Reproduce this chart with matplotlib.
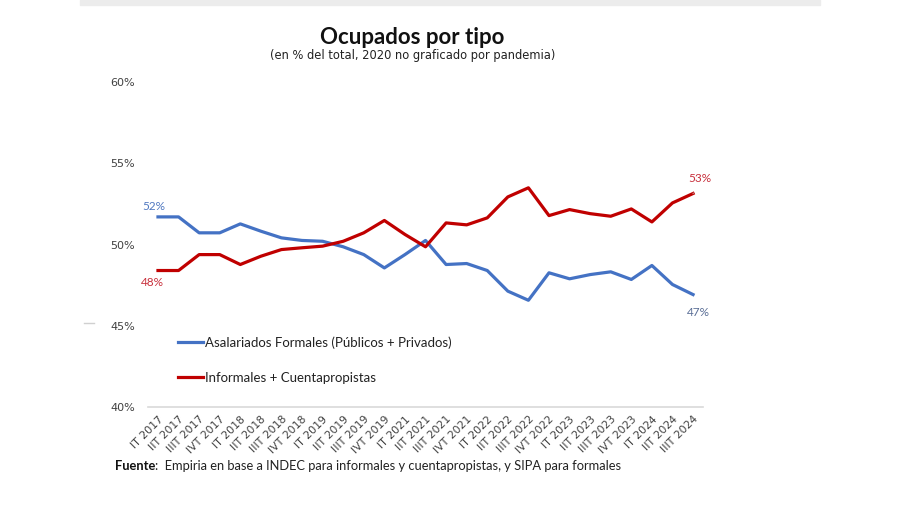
import matplotlib
matplotlib.use("Agg")
import matplotlib.pyplot as plt
from matplotlib.patches import Rectangle
from matplotlib.lines import Line2D

# quarters (2020 skipped because of the pandemic)
periodos = ["IT 2017", "IIT 2017", "IIIT 2017", "IVT 2017",
            "IT 2018", "IIT 2018", "IIIT 2018", "IVT 2018",
            "IT 2019", "IIT 2019", "IIIT 2019", "IVT 2019",
            "IT 2021", "IIT 2021", "IIIT 2021", "IVT 2021",
            "IT 2022", "IIT 2022", "IIIT 2022", "IVT 2022",
            "IT 2023", "IIT 2023", "IIIT 2023", "IVT 2023",
            "IT 2024", "IIT 2024", "IIIT 2024"]

formales = [51.70, 51.70, 50.72, 50.72, 51.27, 50.82, 50.41, 50.25, 50.20,
            49.86, 49.38, 48.56, 49.38, 50.25, 48.77, 48.83, 48.40, 47.13,
            46.57, 48.26, 47.89, 48.15, 48.32, 47.85, 48.71, 47.54, 46.92]

informales = [48.40, 48.40, 49.38, 49.38, 48.77, 49.28, 49.69, 49.80, 49.90,
              50.20, 50.72, 51.48, 50.62, 49.86, 51.33, 51.21, 51.64, 52.93,
              53.49, 51.78, 52.15, 51.90, 51.74, 52.19, 51.39, 52.56, 53.14]

y_ticks = [40, 45, 50, 55, 60]

AZUL = "#4472C4"
ROJO = "#C00000"
TXT = "Lato"
NARROW = ["Liberation Sans Narrow", "DejaVu Sans"]

fig = plt.figure(figsize=(9, 5.05), dpi=100)
ax = fig.add_axes([0.1641, 0.194, 0.6174, 0.6436])

x = list(range(len(periodos)))
ax.plot(x, formales, color=AZUL, lw=2.3, label="Asalariados Formales (Públicos + Privados)")
ax.plot(x, informales, color=ROJO, lw=2.3, label="Informales + Cuentapropistas")

ax.set_xlim(-0.5, len(periodos) - 0.5)
ax.set_ylim(40, 60)
ax.set_yticks(y_ticks)
ax.set_yticklabels([f"{v}%" for v in y_ticks], family=NARROW, fontsize=8, color="#404040")
ax.set_xticks(x)
ax.set_xticklabels(periodos, rotation=45, ha="right", rotation_mode="anchor",
                   family=NARROW, fontsize=7.8, color="#404040")
ax.tick_params(axis="both", length=0)
ax.tick_params(axis="y", pad=9)
ax.tick_params(axis="x", pad=5)

for s in ["top", "right", "left"]:
    ax.spines[s].set_visible(False)
ax.spines["bottom"].set_color("#d9d9d9")
ax.spines["bottom"].set_linewidth(1.2)

# end labels
ax.annotate("52%", (0, formales[0]), xytext=(-4, 10), textcoords="offset pixels",
            ha="center", va="center", color="#5078C0", fontsize=8.5, family=TXT)
ax.annotate("48%", (0, informales[0]), xytext=(-6, -12), textcoords="offset pixels",
            ha="center", va="center", color="#C8303C", fontsize=8.5, family=TXT)
ax.annotate("53%", (x[-1], informales[-1]), xytext=(7, 15), textcoords="offset pixels",
            ha="center", va="center", color="#C8303C", fontsize=8.5, family=TXT,
            arrowprops=dict(arrowstyle="-", color="#bfbfbf", lw=0.8, shrinkA=5, shrinkB=1))
ax.annotate("47%", (x[-1], formales[-1]), xytext=(5, -18), textcoords="offset pixels",
            ha="center", va="center", color="#5A6E96", fontsize=8.5, family=TXT)

leg = fig.legend(loc="upper left", bbox_to_anchor=(0.185, 0.358), frameon=False,
                 prop={"family": TXT, "size": 9.5}, handlelength=1.9,
                 handletextpad=0.15, labelspacing=1.75)
for t in leg.get_texts():
    t.set_color("#222222")

fig.text(0.458, 1 - 38 / 505, "Ocupados por tipo", ha="center", va="center",
         fontsize=16, fontweight="bold", family=TXT, color="#111111")
fig.text(0.458, 1 - 55 / 505, "(en % del total, 2020 no graficado por pandemia)",
         ha="center", va="center", fontsize=8.3, family=NARROW, color="#222222")

# source line: bold word followed directly by the rest
fuente = fig.text(115 / 900, 1 - 466 / 505, "Fuente", ha="left", va="center",
                  fontsize=9.3, fontweight="bold", family=TXT, color="#111111")
fig.canvas.draw()
bb = fuente.get_window_extent(fig.canvas.get_renderer())
fig.text(bb.x1 / fig.bbox.width, 1 - 466 / 505,
         ":  Empiria en base a INDEC para informales y cuentapropistas, y SIPA para formales",
         ha="left", va="center", fontsize=9.3, family=TXT, color="#222222")

# faint frame remnants from the screenshot
fig.patches.append(Rectangle((80 / 900, 1 - 5 / 505), 740 / 900, 5 / 505,
                             transform=fig.transFigure, color="#ececec", zorder=0))
fig.lines.append(Line2D([84 / 900, 94 / 900], [1 - 323 / 505] * 2,
                        transform=fig.transFigure, color="#d0d0d0", lw=1))

fig.savefig("out.png", dpi=100)
